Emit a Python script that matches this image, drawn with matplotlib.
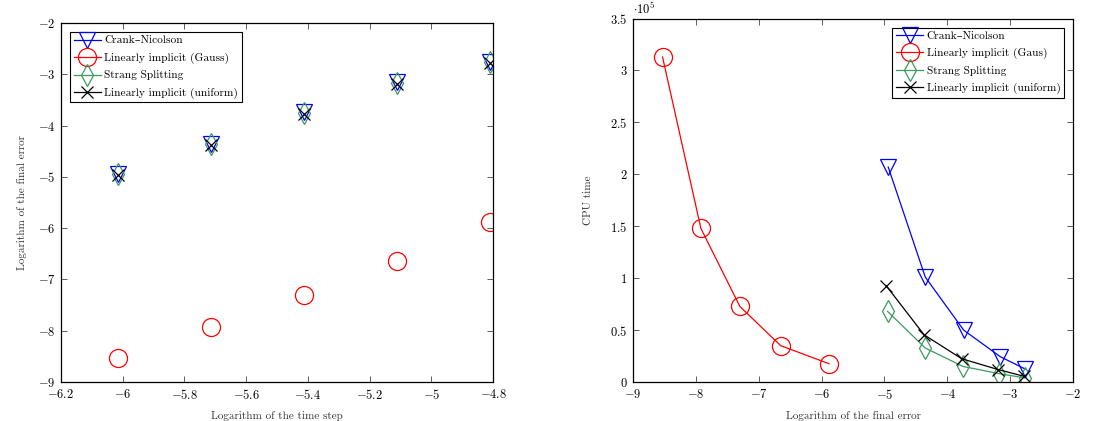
import numpy as np
import matplotlib
matplotlib.use('Agg')
import matplotlib.pyplot as plt
from matplotlib.lines import Line2D
from matplotlib.ticker import FuncFormatter, MultipleLocator

plt.rcParams['font.family'] = ['cmr10', 'DejaVu Serif']
plt.rcParams['mathtext.fontset'] = 'cm'
plt.rcParams['axes.unicode_minus'] = False

# log10 of the time step
log_dt = [-6.014, -5.713, -5.412, -5.111, -4.810]

# log10 of the final error, per method
err_cn = [-4.94, -4.35, -3.74, -3.16, -2.76]
err_gauss = [-8.53, -7.92, -7.30, -6.65, -5.88]
err_strang = [-4.95, -4.35, -3.75, -3.17, -2.77]
err_uniform = [-4.97, -4.37, -3.77, -3.19, -2.78]

# CPU time (units of 1e5)
cpu_cn = [2.07, 1.01, 0.50, 0.245, 0.125]
cpu_gauss = [3.13, 1.48, 0.728, 0.35, 0.176]
cpu_strang = [0.68, 0.327, 0.15, 0.08, 0.04]
cpu_uniform = [0.926, 0.455, 0.224, 0.12, 0.055]

labels_left = ['Crank\u2013Nicolson', 'Linearly implicit (Gauss)',
               'Strang Splitting', 'Linearly implicit (uniform)']
labels_right = ['Crank\u2013Nicolson', 'Linearly implicit (Gaus)',
                'Strang Splitting', 'Linearly implicit (uniform)']

green = '#3a9a5e'
styles = [
    dict(color='blue', marker='v', ms=11),
    dict(color='red', marker='o', ms=13),
    dict(color=green, marker='d', ms=11),
    dict(color='black', marker='x', ms=9),
]


def fmt(v, pos):
    s = '%g' % round(v, 6)
    return '$' + s + '$'


def style_axes(ax):
    ax.tick_params(direction='in', top=True, right=True, length=4,
                   width=0.6, labelsize=9, color='#444444', pad=4)
    for sp in ax.spines.values():
        sp.set_linewidth(0.9)
    ax.xaxis.set_major_formatter(FuncFormatter(fmt))
    ax.yaxis.set_major_formatter(FuncFormatter(fmt))


fig = plt.figure(figsize=(11.07, 4.21), dpi=100)
ax1 = fig.add_axes([0.0551, 0.0926, 0.3903, 0.8528])
ax2 = fig.add_axes([0.5718, 0.0926, 0.3975, 0.8634])

# left: error vs time step, markers only
for ys, st in zip([err_cn, err_gauss, err_strang, err_uniform], styles):
    ax1.plot(log_dt, ys, linestyle='none', marker=st['marker'], ms=st['ms'],
             markerfacecolor='none', markeredgecolor=st['color'],
             markeredgewidth=0.9)
ax1.set_xlim(-6.2, -4.8)
ax1.set_ylim(-9, -2)
ax1.xaxis.set_major_locator(MultipleLocator(0.2))
ax1.yaxis.set_major_locator(MultipleLocator(1))
ax1.set_xlabel('Logarithm of the time step', fontsize=8, color='#333333', labelpad=7)
ax1.set_ylabel('Logarithm of the final error', fontsize=8, color='#333333', labelpad=8)
style_axes(ax1)

# right: CPU time vs final error
series = [(err_cn, cpu_cn), (err_gauss, cpu_gauss),
          (err_strang, cpu_strang), (err_uniform, cpu_uniform)]
for (xs, ys), st in zip(series, styles):
    ax2.plot(xs, ys, color=st['color'], lw=0.9, marker=st['marker'],
             ms=st['ms'], markerfacecolor='none', markeredgecolor=st['color'],
             markeredgewidth=0.9)
ax2.set_xlim(-9, -2)
ax2.set_ylim(0, 3.5)
ax2.xaxis.set_major_locator(MultipleLocator(1))
ax2.yaxis.set_major_locator(MultipleLocator(0.5))
ax2.set_xlabel('Logarithm of the final error', fontsize=8, color='#333333', labelpad=7)
ax2.set_ylabel('CPU time', fontsize=8, color='#333333', labelpad=12)
ax2.text(0.0, 1.005, r'$\cdot 10^5$', transform=ax2.transAxes, fontsize=9,
         ha='left', va='bottom')
style_axes(ax2)


def make_handles():
    return [Line2D([0], [0], color=st['color'], lw=0.9, marker=st['marker'],
                   ms=st['ms'], markerfacecolor='none',
                   markeredgecolor=st['color'], markeredgewidth=0.9)
            for st in styles]


for ax, labels, loc in [(ax1, labels_left, 'upper left'),
                        (ax2, labels_right, 'upper right')]:
    leg = ax.legend(make_handles(), labels, loc=loc, fontsize=8.2,
                    fancybox=False, edgecolor='black', framealpha=1,
                    handlelength=2.4, handletextpad=0.3, borderpad=0.3,
                    labelspacing=0.6, borderaxespad=0.8)
    leg.get_frame().set_linewidth(0.8)

fig.savefig('out.png', dpi=100)
